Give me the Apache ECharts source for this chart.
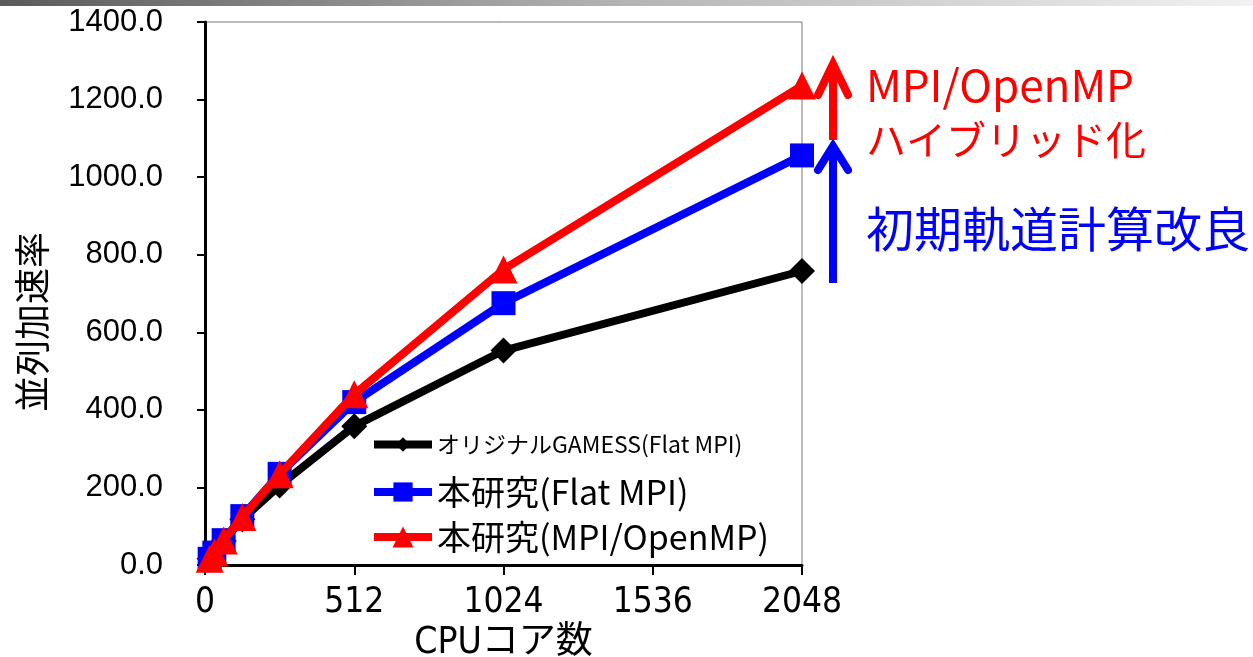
<!DOCTYPE html>
<html>
<head>
<meta charset="utf-8">
<script src="https://cdn.jsdelivr.net/npm/echarts@6/dist/echarts.min.js"></script>
<style>
  html, body { margin: 0; padding: 0; background: #fff; }
  #chart { width: 1253px; height: 657px; }
</style>
</head>
<body>
<div id="chart"></div>
<script>
// コア数
const cores = [16, 32, 64, 128, 256, 512, 1024, 2048]
// 並列加速率
const gamessFlat = [16, 32, 62, 118, 205, 358, 553, 758]
const flatMpi = [16, 32, 64, 126, 235, 420, 675, 1056]
const hybrid = [16, 32, 63, 124, 234, 440, 762, 1236]

const seriesNames = ['オリジナルGAMESS(Flat MPI)', '本研究(Flat MPI)', '本研究(MPI/OpenMP)']
const xTicks = [0, 512, 1024, 1536, 2048]
const yTicks = [0, 200, 400, 600, 800, 1000, 1200, 1400]

const pairs = ys => cores.map((c, i) => [c, ys[i]])

const chartDom = document.getElementById('chart')
const chart = echarts.init(chartDom)

const labelFont = "'Liberation Sans', Arial, sans-serif"
const narrowFont = "'Liberation Sans Narrow', 'DejaVu Sans Condensed', 'Noto Sans CJK JP', sans-serif"
const jpFont = "'Noto Sans CJK JP', sans-serif"

// 凡例は行ごとに文字サイズが違うので 3 つに分ける
function legendRow(name, top, size, symH) {
  return {
    data: [name],
    left: 365,
    top: top,
    itemWidth: 58,
    itemHeight: symH,
    itemGap: 4,
    lineStyle: { width: 8 },
    textStyle: { fontSize: size, fontFamily: jpFont, color: '#000' },
    selectedMode: false,
  }
}

const option = {
  animation: false,
  backgroundColor: '#fff',
  grid: {
    left: 205,
    right: 451,
    top: 22,
    bottom: 92,
    outerBoundsMode: 'none',
    containLabel: false,
    show: true,
    borderColor: '#777',
    borderWidth: 1,
  },
  legend: [
    legendRow(seriesNames[0], 428, 23, 18),
    legendRow(seriesNames[1], 470, 34, 24),
    legendRow(seriesNames[2], 515, 34, 26),
  ],
  xAxis: {
    type: 'value',
    min: xTicks[0],
    max: xTicks[xTicks.length - 1],
    interval: 512,
    name: 'CPUコア数',
    nameLocation: 'middle',
    nameGap: 55,
    nameTextStyle: { fontSize: 37, fontFamily: narrowFont, color: '#000' },
    axisLine: { lineStyle: { color: '#000', width: 3 } },
    axisTick: { inside: false, length: 10, lineStyle: { color: '#000', width: 2 } },
    axisLabel: {
      fontSize: 35,
      fontFamily: narrowFont,
      color: '#000',
      margin: 20,
      formatter: v => String(v),
    },
    splitLine: { show: false },
  },
  yAxis: {
    type: 'value',
    min: yTicks[0],
    max: yTicks[yTicks.length - 1],
    interval: 200,
    axisLine: { show: true, lineStyle: { color: '#000', width: 3 } },
    axisTick: { show: true, length: 8, lineStyle: { color: '#000', width: 2 } },
    axisLabel: {
      fontSize: 31,
      fontFamily: labelFont,
      color: '#000',
      margin: 42,
      formatter: v => v.toFixed(1),
    },
    splitLine: { show: false },
  },
  series: [
    {
      name: seriesNames[0],
      type: 'line',
      data: pairs(gamessFlat),
      color: '#000',
      lineStyle: { width: 8, color: '#000' },
      symbol: 'diamond',
      symbolSize: 26,
      itemStyle: { color: '#000' },
      z: 2,
    },
    {
      name: seriesNames[1],
      type: 'line',
      data: pairs(flatMpi),
      color: '#0000ff',
      lineStyle: { width: 8, color: '#0000ff' },
      symbol: 'rect',
      symbolSize: 24,
      itemStyle: { color: '#0000ff' },
      z: 3,
    },
    {
      name: seriesNames[2],
      type: 'line',
      data: pairs(hybrid),
      color: '#ff0000',
      lineStyle: { width: 8, color: '#ff0000' },
      symbol: 'triangle',
      symbolSize: 28,
      itemStyle: { color: '#ff0000' },
      z: 4,
    },
  ],
  graphic: [
    // 上端のグラデーション帯
    {
      type: 'rect',
      left: 0,
      top: 0,
      shape: { width: 1253, height: 6 },
      style: {
        fill: new echarts.graphic.LinearGradient(0, 0, 1, 0, [
          { offset: 0, color: '#5a5a5a' },
          { offset: 0.5, color: '#b4b4b4' },
          { offset: 1, color: '#f2f2f2' },
        ]),
      },
      silent: true,
    },
    // 縦軸タイトル
    {
      type: 'text',
      x: 32,
      y: 322,
      rotation: Math.PI / 2,
      style: {
        text: '並列加速率',
        fontSize: 36,
        fontFamily: jpFont,
        fill: '#000',
        align: 'center',
        verticalAlign: 'middle',
      },
    },
    // 青い矢印
    {
      type: 'polyline',
      shape: { points: [[833, 283], [833, 146]] },
      style: { stroke: '#0000ff', lineWidth: 8, fill: null },
      z: 10,
    },
    {
      type: 'polyline',
      shape: { points: [[818, 170], [833, 146], [848, 170]] },
      style: { stroke: '#0000ff', lineWidth: 8, fill: null, lineCap: 'round', lineJoin: 'miter' },
      z: 10,
    },
    // 赤い矢印
    {
      type: 'polyline',
      shape: { points: [[833, 140], [833, 64]] },
      style: { stroke: '#ff0000', lineWidth: 8, fill: null },
      z: 11,
    },
    {
      type: 'polyline',
      shape: { points: [[818, 95], [833, 64], [848, 95]] },
      style: { stroke: '#ff0000', lineWidth: 8, fill: null, lineCap: 'round', lineJoin: 'miter' },
      z: 11,
    },
    // 注記
    {
      type: 'text',
      left: 866,
      top: 63,
      style: { text: 'MPI/OpenMP', fontSize: 44, fontFamily: jpFont, fill: '#ff0000' },
    },
    {
      type: 'text',
      left: 866,
      top: 120,
      style: { text: 'ハイブリッド化', fontSize: 40, fontFamily: jpFont, fill: '#ff0000' },
    },
    {
      type: 'text',
      left: 866,
      top: 205,
      style: { text: '初期軌道計算改良', fontSize: 48, fontFamily: jpFont, fill: '#0000ff' },
    },
  ],
}

chart.setOption(option)
window.addEventListener('resize', () => chart.resize())
</script>
</body>
</html>
